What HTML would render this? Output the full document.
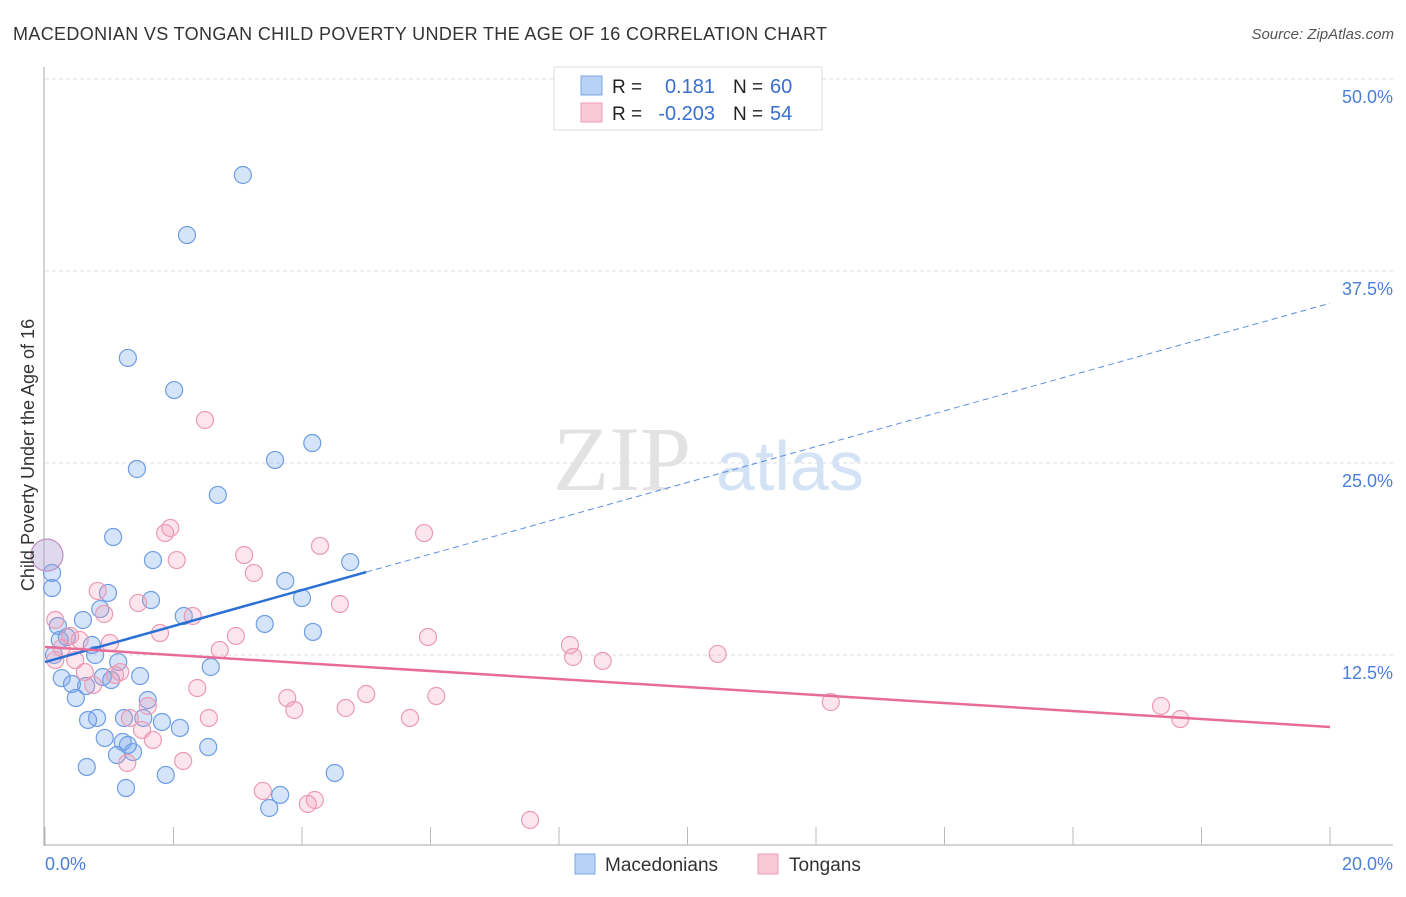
<!DOCTYPE html>
<html><head><meta charset="utf-8"><style>
body{margin:0;background:#fff;font-family:"Liberation Sans",sans-serif}
svg text{font-family:"Liberation Sans",sans-serif}
</style></head><body>
<svg id="chart" width="1406" height="892">
<text x="13" y="40" font-size="18" fill="#333" textLength="814" lengthAdjust="spacing">MACEDONIAN VS TONGAN CHILD POVERTY UNDER THE AGE OF 16 CORRELATION CHART</text>
<text x="1394" y="39" font-size="15" fill="#555" font-style="italic" text-anchor="end">Source: ZipAtlas.com</text>
<g id="grid"></g>
<g>
<text x="553" y="490" font-size="92" fill="#e2e2e2" style="font-family:'Liberation Serif',serif">ZIP</text>
<text x="716" y="490" font-size="70" fill="#d3e2f4">atlas</text>
</g>
<line x1="44" y1="67" x2="44" y2="846" stroke="#aaa"/>
<line x1="44" y1="845" x2="1393" y2="845" stroke="#aaa"/>
<g id="xticks"></g>
<g id="pts"></g>
<g id="trends"></g>
<text transform="translate(34,455) rotate(-90)" font-size="18" fill="#333" text-anchor="middle">Child Poverty Under the Age of 16</text>
<text x="45" y="870" font-size="18" fill="#4a7fd4">0.0%</text>
<text x="1393" y="870" font-size="18" fill="#4a7fd4" text-anchor="end">20.0%</text>
<g>
<rect x="554" y="67" width="268" height="63" fill="#fff" stroke="#ddd"/>
<rect x="581" y="76" width="21" height="19" fill="#b8d2f5" stroke="#7aa7e6"/>
<rect x="581" y="103" width="21" height="19" fill="#f9c9d8" stroke="#ee9db6"/>
<text x="612" y="93" font-size="19" fill="#222">R =</text>
<text x="715" y="93" font-size="20" fill="#3a6fd0" text-anchor="end">0.181</text>
<text x="733" y="93" font-size="19" fill="#222">N =</text>
<text x="770" y="93" font-size="20" fill="#3a6fd0">60</text>
<text x="612" y="120" font-size="19" fill="#222">R =</text>
<text x="715" y="120" font-size="20" fill="#3a6fd0" text-anchor="end">-0.203</text>
<text x="733" y="120" font-size="19" fill="#222">N =</text>
<text x="770" y="120" font-size="20" fill="#3a6fd0">54</text>
</g>
<g>
<rect x="575" y="854" width="20" height="20" fill="#b8d2f5" stroke="#7aa7e6"/>
<text x="605" y="871" font-size="19" fill="#333">Macedonians</text>
<rect x="758" y="854" width="20" height="20" fill="#f9c9d8" stroke="#ee9db6"/>
<text x="789" y="871" font-size="19" fill="#333">Tongans</text>
</g>
</svg>
<script>
const yTicks=[12.5,25,37.5,50];
const yTickLabels=["12.5%","25.0%","37.5%","50.0%"];
const xTicks=[0,2,4,6,8,10,12,14,16,18,20];
const blueX=[3.08,2.21,1.29,2.01,4.16,1.43,3.58,2.69,1.06,1.68,4.75,0.11,0.11,3.74,0.98,1.65,0.86,4.00,2.16,0.59,0.20,3.42,4.17,0.34,0.23,0.73,0.78,0.14,1.14,2.58,1.48,0.26,0.42,0.64,0.90,1.03,0.48,1.60,0.81,0.67,1.23,1.53,1.82,2.10,0.93,1.21,1.37,1.12,1.29,2.54,0.65,1.88,4.51,1.26,3.66,3.49];
const blueY=[43.75,39.84,31.84,29.75,26.30,24.61,25.20,22.92,20.18,18.68,18.55,17.84,16.86,17.32,16.54,16.08,15.49,16.21,15.04,14.78,14.39,14.52,14.00,13.67,13.48,13.15,12.50,12.50,12.04,11.72,11.13,11.00,10.61,10.48,11.07,10.87,9.70,9.57,8.40,8.27,8.40,8.40,8.14,7.75,7.10,6.84,6.18,5.99,6.64,6.51,5.21,4.69,4.82,3.84,3.39,2.54];
const pinkX=[2.49,1.95,1.87,5.90,2.05,3.10,4.28,3.25,0.82,1.45,4.59,0.92,2.30,0.16,1.79,2.97,1.01,5.96,0.39,8.17,8.22,8.68,10.47,2.72,0.47,0.62,1.09,1.17,2.37,0.75,3.77,5.00,6.09,1.60,3.88,2.55,4.68,5.68,12.23,17.37,17.67,1.32,1.51,1.68,2.15,1.28,3.39,4.20,4.09,7.55,0.16,0.26,0.54];
const pinkY=[27.80,20.77,20.44,20.44,18.68,19.01,19.60,17.84,16.67,15.89,15.82,15.17,15.04,14.78,13.93,13.74,13.28,13.67,13.74,13.15,12.37,12.11,12.57,12.83,12.17,11.39,11.20,11.39,10.35,10.55,9.70,9.96,9.83,9.18,8.92,8.40,9.05,8.40,9.44,9.18,8.33,8.40,7.62,6.97,5.60,5.47,3.65,3.06,2.80,1.76,12.17,12.96,13.48];
const bigX=[0.03], bigY=[19.0];
const blueTrendX=[0,5,20], blueTrendY=[12.04,17.9,35.4];
const pinkTrendX=[0,20], pinkTrendY=[13.02,7.81];
const NS="http://www.w3.org/2000/svg";
const sx=v=>45+v*64.25, sy=v=>847-v*15.36;
function mk(tag,attrs,parent){const e=document.createElementNS(NS,tag);for(const k in attrs)e.setAttribute(k,attrs[k]);parent.appendChild(e);return e;}
const grid=document.getElementById('grid');
yTicks.forEach((t,i)=>{
 const l=mk('line',{x1:45,x2:1393,y1:sy(t),y2:sy(t),stroke:'#ddd','stroke-dasharray':'4,3'},grid);
 
 
 const tx=mk('text',{x:1393,y:sy(t)+24,'font-size':18,fill:'#4a7fd4','text-anchor':'end'},grid);
 tx.textContent=yTickLabels[i];
 
 
});
const xt=document.getElementById('xticks');
xTicks.forEach(t=>{
 const l=mk('line',{x1:sx(t),x2:sx(t),y1:827,y2:845,stroke:'#bbb'},xt);
 
 
});
const pts=document.getElementById('pts');
blueX.forEach((x,i)=>{
 const c=mk('circle',{cx:sx(x),cy:sy(blueY[i]),r:8.5,fill:'rgba(120,165,235,0.3)',stroke:'#6d9de3','stroke-width':1.2},pts);
 
 
});
pinkX.forEach((x,i)=>{
 const c=mk('circle',{cx:sx(x),cy:sy(pinkY[i]),r:8.5,fill:'rgba(245,150,180,0.25)',stroke:'#ec9ab3','stroke-width':1.2},pts);
 
 
});
bigX.forEach((x,i)=>{
 const c=mk('circle',{cx:sx(x),cy:sy(bigY[i]),r:16,fill:'rgba(175,160,210,0.4)',stroke:'#c08fc0','stroke-width':1.2},pts);
 
 
});
const tr=document.getElementById('trends');
let b=mk('line',{x1:sx(blueTrendX[0]),y1:sy(blueTrendY[0]),x2:sx(blueTrendX[1]),y2:sy(blueTrendY[1]),stroke:'#2a6fd6','stroke-width':2.5},tr);


let bd=mk('line',{x1:sx(blueTrendX[1]),y1:sy(blueTrendY[1]),x2:sx(blueTrendX[2]),y2:sy(blueTrendY[2]),stroke:'#5a8fe0','stroke-width':1,'stroke-dasharray':'6,4'},tr);


let p=mk('line',{x1:sx(pinkTrendX[0]),y1:sy(pinkTrendY[0]),x2:sx(pinkTrendX[1]),y2:sy(pinkTrendY[1]),stroke:'#e86c98','stroke-width':2.5},tr);


</script>
</body></html>
